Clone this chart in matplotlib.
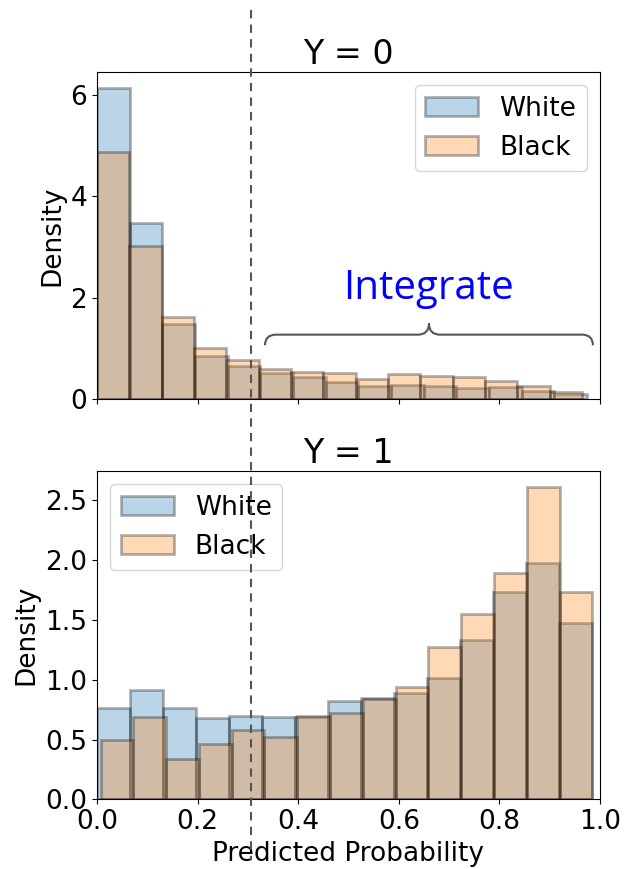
import numpy as np
import matplotlib
matplotlib.use("Agg")
import matplotlib.pyplot as plt
from matplotlib.path import Path
from matplotlib.patches import PathPatch
from matplotlib.lines import Line2D
from matplotlib.transforms import blended_transform_factory

# histogram densities per bin (15 bins each)
y0_white = [6.15, 3.48, 1.49, 0.85, 0.66, 0.52, 0.43, 0.33, 0.26, 0.28, 0.26, 0.22, 0.23, 0.15, 0.10]
y0_black = [4.87, 3.02, 1.62, 1.00, 0.77, 0.59, 0.54, 0.52, 0.39, 0.49, 0.46, 0.43, 0.35, 0.25, 0.13]
y1_white = [0.76, 0.91, 0.76, 0.68, 0.70, 0.69, 0.685, 0.82, 0.845, 0.89, 1.01, 1.33, 1.73, 1.975, 1.47]
y1_black = [0.50, 0.69, 0.34, 0.46, 0.58, 0.52, 0.695, 0.725, 0.84, 0.94, 1.27, 1.55, 1.89, 2.61, 1.73]

# data range covered by each histogram
y0_white_range = (0.0, 0.974)
y0_black_range = (0.0, 0.964)
y1_white_range = (0.0, 0.984)
y1_black_range = (0.007, 0.985)

threshold = 0.307
groups = ["White", "Black"]

plt.rcParams["font.family"] = "DejaVu Sans"

fig = plt.figure(figsize=(6.27, 8.69), dpi=100)
ax1 = fig.add_axes([0.1547, 0.5409, 0.8022, 0.3763])
ax2 = fig.add_axes([0.1547, 0.0800, 0.8022, 0.3780], sharex=ax1)


def draw_hist(ax, heights, rng, color, label):
    edges = np.linspace(rng[0], rng[1], len(heights) + 1)
    ax.hist(edges[:-1], bins=edges, weights=heights, color=color,
            alpha=0.3, edgecolor="black", linewidth=2, label=label)


draw_hist(ax1, y0_white, y0_white_range, "C0", groups[0])
draw_hist(ax1, y0_black, y0_black_range, "C1", groups[1])
draw_hist(ax2, y1_white, y1_white_range, "C0", groups[0])
draw_hist(ax2, y1_black, y1_black_range, "C1", groups[1])

ax1.set_title("Y = 0", fontsize=24)
ax2.set_title("Y = 1", fontsize=24)
for ax in (ax1, ax2):
    ax.set_ylabel("Density", fontsize=19)
    ax.tick_params(labelsize=19)
ax1.tick_params(labelbottom=False)
ax2.set_xlabel("Predicted Probability", fontsize=19)
ax2.set_xlim(0, 1)
ax2.set_xticks([0.0, 0.2, 0.4, 0.6, 0.8, 1.0])
ax1.set_yticks([0, 2, 4, 6])
ax2.set_yticks([0.0, 0.5, 1.0, 1.5, 2.0, 2.5])

ax1.legend(loc="upper right", fontsize=19)
ax2.legend(loc="upper left", fontsize=19)

# curly brace over the region above the threshold
x0, x1 = 0.334, 0.986
xc = (x0 + x1) / 2
y_end, y_line, y_peak = 1.06, 1.27, 1.49
r = 0.022
verts = [(x0, y_end), (x0, y_line), (x0 + r, y_line),
         (xc - r, y_line), (xc, y_line), (xc, y_peak),
         (xc, y_line), (xc + r, y_line),
         (x1 - r, y_line), (x1, y_line), (x1, y_end)]
codes = [Path.MOVETO, Path.CURVE3, Path.CURVE3,
         Path.LINETO, Path.CURVE3, Path.CURVE3,
         Path.CURVE3, Path.CURVE3,
         Path.LINETO, Path.CURVE3, Path.CURVE3]
ax1.add_patch(PathPatch(Path(verts, codes), fill=False, edgecolor="#555555", lw=1.5))
ax1.text(xc, 2.18, "Integrate", color="blue", fontsize=29,
         family="Open Sans", ha="center", va="center")

# decision threshold spanning both panels
trans = blended_transform_factory(ax2.transData, fig.transFigure)
fig.add_artist(Line2D([threshold, threshold], [0.988, 0.0104], transform=trans,
                      color="#555555", lw=1.5, ls=(0, (4, 3))))

fig.savefig("out.png", dpi=100)
